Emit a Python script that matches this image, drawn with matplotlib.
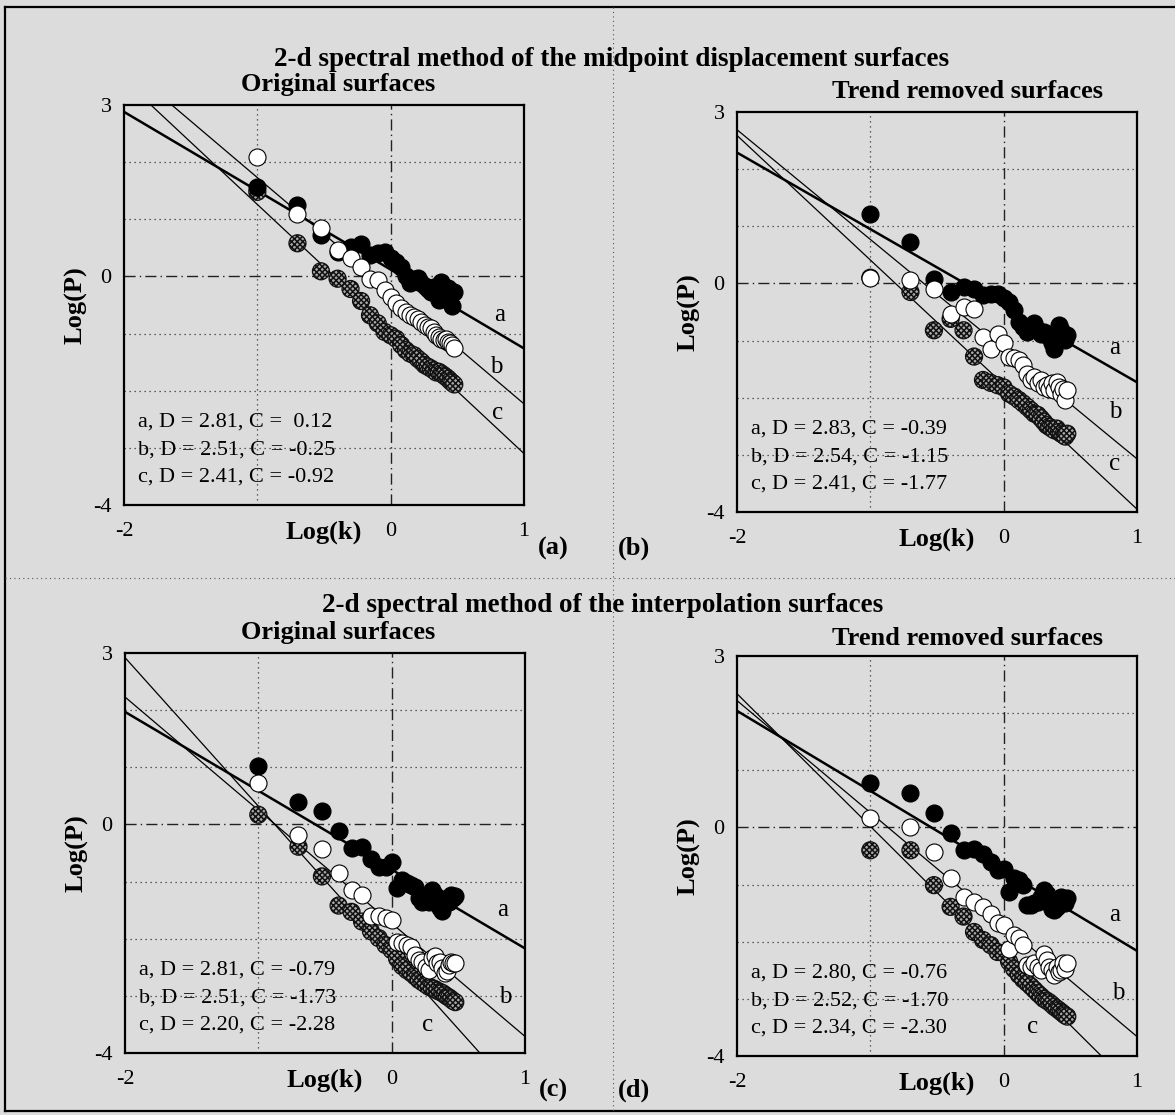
import numpy as np
import matplotlib
matplotlib.use('Agg')
import matplotlib.pyplot as plt
from matplotlib.lines import Line2D

# log10 of the wave number, shared by every series
log_k = [-1.0, -0.699, -0.523, -0.398, -0.301, -0.222, -0.155, -0.097, -0.046, 0.0,
         0.041, 0.079, 0.114, 0.146, 0.176, 0.204, 0.23, 0.255, 0.279, 0.301,
         0.322, 0.342, 0.362, 0.38, 0.398, 0.415, 0.431, 0.447, 0.462, 0.477]

# (a) midpoint displacement, original surfaces
a_orig_a = [1.57, 1.25, 0.72, 0.43, 0.52, 0.57, 0.37, 0.41, 0.42, 0.33,
            0.25, 0.16, 0.0, -0.12, -0.05, -0.02, -0.12, -0.16, -0.22, -0.28,
            -0.18, -0.30, -0.42, -0.10, -0.22, -0.30, -0.20, -0.32, -0.52, -0.28]
a_orig_b = [2.09, 1.09, 0.84, 0.46, 0.32, 0.17, -0.04, -0.06, -0.24, -0.36,
            -0.47, -0.56, -0.62, -0.68, -0.71, -0.74, -0.79, -0.85, -0.88, -0.91,
            -0.97, -1.03, -1.06, -1.09, -1.11, -1.09, -1.14, -1.17, -1.20, -1.26]
a_orig_c = [1.48, 0.58, 0.09, -0.04, -0.22, -0.43, -0.68, -0.82, -0.97, -1.03,
            -1.09, -1.20, -1.29, -1.35, -1.38, -1.44, -1.49, -1.55, -1.58, -1.61,
            -1.64, -1.68, -1.67, -1.70, -1.73, -1.76, -1.79, -1.83, -1.86, -1.89]

# (b) midpoint displacement, trend removed surfaces
b_trend_a = [1.21, 0.73, 0.08, -0.15, -0.06, -0.09, -0.20, -0.18, -0.18, -0.26,
             -0.32, -0.47, -0.67, -0.76, -0.85, -0.79, -0.70, -0.82, -0.88, -0.85,
             -0.90, -0.93, -1.05, -1.14, -0.90, -0.73, -0.82, -0.93, -0.99, -0.90]
b_trend_b = [0.10, 0.06, -0.09, -0.53, -0.41, -0.44, -0.93, -1.14, -0.88, -1.04,
             -1.28, -1.31, -1.34, -1.43, -1.58, -1.69, -1.63, -1.75, -1.69, -1.81,
             -1.78, -1.84, -1.75, -1.87, -1.72, -1.81, -1.93, -1.84, -2.04, -1.87]
b_trend_c = [0.10, -0.15, -0.82, -0.62, -0.82, -1.28, -1.69, -1.74, -1.78, -1.82,
             -1.93, -1.98, -2.04, -2.10, -2.16, -2.22, -2.28, -2.30, -2.36, -2.42,
             -2.48, -2.51, -2.54, -2.57, -2.54, -2.60, -2.63, -2.65, -2.68, -2.63]

# (c) interpolation, original surfaces
c_orig_a = [1.02, 0.39, 0.23, -0.11, -0.41, -0.39, -0.61, -0.74, -0.74, -0.65,
            -1.12, -0.97, -1.03, -1.06, -1.09, -1.29, -1.35, -1.26, -1.35, -1.14,
            -1.23, -1.35, -1.46, -1.52, -1.38, -1.29, -1.35, -1.23, -1.29, -1.26]
c_orig_b = [0.72, -0.19, -0.43, -0.85, -1.14, -1.23, -1.61, -1.61, -1.64, -1.67,
            -2.05, -2.08, -2.11, -2.14, -2.28, -2.37, -2.40, -2.49, -2.54, -2.34,
            -2.31, -2.43, -2.40, -2.51, -2.60, -2.57, -2.46, -2.40, -2.43, -2.43]
c_orig_c = [0.17, -0.39, -0.91, -1.42, -1.53, -1.70, -1.87, -1.99, -2.11, -2.20,
            -2.35, -2.48, -2.55, -2.60, -2.66, -2.72, -2.76, -2.80, -2.84, -2.86,
            -2.88, -2.91, -2.93, -2.95, -2.98, -3.01, -3.03, -3.06, -3.09, -3.11]

# (d) interpolation, trend removed surfaces
d_trend_a = [0.78, 0.61, 0.26, -0.09, -0.39, -0.37, -0.46, -0.60, -0.75, -0.72,
             -1.13, -0.89, -0.92, -1.01, -1.36, -1.36, -1.33, -1.30, -1.21, -1.10,
             -1.16, -1.33, -1.42, -1.45, -1.39, -1.30, -1.21, -1.27, -1.33, -1.24]
d_trend_b = [0.16, 0.01, -0.43, -0.89, -1.21, -1.30, -1.39, -1.51, -1.68, -1.71,
             -2.12, -1.88, -1.94, -2.06, -2.41, -2.44, -2.38, -2.44, -2.50, -2.21,
             -2.32, -2.44, -2.50, -2.58, -2.44, -2.53, -2.50, -2.38, -2.47, -2.38]
d_trend_c = [-0.40, -0.40, -1.01, -1.39, -1.56, -1.83, -1.97, -2.06, -2.18, -2.20,
             -2.35, -2.48, -2.58, -2.66, -2.72, -2.78, -2.84, -2.90, -2.95, -3.00,
             -3.03, -3.06, -3.10, -3.14, -3.17, -3.20, -3.23, -3.26, -3.29, -3.31]

# fitted dimension D and intercept C for series a, b, c of each panel
fit_D = {'a': [2.81, 2.51, 2.41], 'b': [2.83, 2.54, 2.41],
         'c': [2.81, 2.51, 2.20], 'd': [2.80, 2.52, 2.34]}
fit_C = {'a': [0.12, -0.25, -0.92], 'b': [-0.39, -1.15, -1.77],
         'c': [-0.79, -1.73, -2.28], 'd': [-0.76, -1.70, -2.30]}
fit_text = {'a': ['a, D = 2.81, C =  0.12', 'b, D = 2.51, C = -0.25', 'c, D = 2.41, C = -0.92'],
            'b': ['a, D = 2.83, C = -0.39', 'b, D = 2.54, C = -1.15', 'c, D = 2.41, C = -1.77'],
            'c': ['a, D = 2.81, C = -0.79', 'b, D = 2.51, C = -1.73', 'c, D = 2.20, C = -2.28'],
            'd': ['a, D = 2.80, C = -0.76', 'b, D = 2.52, C = -1.70', 'c, D = 2.34, C = -2.30']}

x_ticks = [-2, 0, 1]
y_ticks = [3, 0, -4]

BG = '#dcdcdc'
FONT = 'Liberation Serif'
plt.rcParams['hatch.linewidth'] = 1.1


def draw_panel(fig, rect, key, series, label_pos):
    ax = fig.add_axes(rect)
    ax.set_facecolor(BG)
    ax.set_xlim(-2, 1)
    ax.set_ylim(-4, 3)

    # reference grid
    for yy in [2, 1, -1, -2, -3]:
        ax.axhline(yy, color='#333333', lw=0.9, ls=(0, (1, 3)), zorder=1)
    ax.axvline(-1, color='#333333', lw=0.9, ls=(0, (1, 3)), zorder=1)
    ax.axhline(0, color='#222222', lw=1.0, ls=(0, (8, 3, 1, 3)), zorder=1)
    ax.axvline(0, color='#222222', lw=1.0, ls=(0, (8, 3, 1, 3)), zorder=1)

    # fitted lines  y = C + (2D - 7) x
    xx = np.array(ax.get_xlim())
    widths = [1.8, 0.9, 0.9]
    for D, C, lw in zip(fit_D[key], fit_C[key], widths):
        ax.plot(xx, C + (2 * D - 7) * xx, color='black', lw=lw, zorder=2)

    ya, yb, yc = series
    ms = 150
    ax.scatter(log_k, yc, s=ms, facecolor='#a8a8a8', edgecolor='#111111',
               hatch='xxxxxx', linewidths=0.9, zorder=3)
    ax.scatter(log_k, ya, s=ms, facecolor='black', edgecolor='black',
               linewidths=0.8, zorder=4)
    ax.scatter(log_k, yb, s=ms, facecolor='white', edgecolor='black',
               linewidths=0.8, zorder=5)

    for i, line in enumerate(fit_text[key]):
        ax.text(0.035, 0.207 - i * 0.069, line, transform=ax.transAxes,
                fontsize=16, family=FONT, va='center', ha='left', zorder=6)
    for name, (lx, ly) in zip(['a', 'b', 'c'], label_pos):
        ax.text(lx, ly, name, transform=ax.transAxes, fontsize=18,
                family=FONT, ha='center', va='center', zorder=6)

    ax.set_xticks(x_ticks)
    ax.set_yticks(y_ticks)
    ax.set_xticklabels([str(t) for t in x_ticks], family=FONT, fontsize=16)
    ax.set_yticklabels([str(t) for t in y_ticks], family=FONT, fontsize=16)
    ax.tick_params(axis='x', length=0, pad=12)
    ax.tick_params(axis='y', length=0, pad=9)
    for sp in ax.spines.values():
        sp.set_linewidth(1.6)

    ax.text(0.5, -0.068, 'Log(k)', transform=ax.transAxes, fontsize=19,
            fontweight='bold', family=FONT, ha='center', va='center')
    ax.text(-0.12, 0.5, 'Log(P)', transform=ax.transAxes, fontsize=19,
            fontweight='bold', family=FONT, ha='center', va='center', rotation=90)
    return ax


def main():
    fig = plt.figure(figsize=(11.75, 11.15), dpi=100)
    fig.patch.set_facecolor(BG)
    W, H = 1175.0, 1115.0

    def rect(left, top):
        return [left / W, (H - top - 400) / H, 400 / W, 400 / H]

    draw_panel(fig, rect(124, 105), 'a', (a_orig_a, a_orig_b, a_orig_c),
               [(0.94, 0.475), (0.93, 0.345), (0.935, 0.23)])
    draw_panel(fig, rect(737, 112), 'b', (b_trend_a, b_trend_b, b_trend_c),
               [(0.945, 0.41), (0.945, 0.25), (0.945, 0.12)])
    draw_panel(fig, rect(125, 653), 'c', (c_orig_a, c_orig_b, c_orig_c),
               [(0.945, 0.357), (0.95, 0.14), (0.757, 0.07)])
    draw_panel(fig, rect(737, 656), 'd', (d_trend_a, d_trend_b, d_trend_c),
               [(0.945, 0.352), (0.952, 0.157), (0.74, 0.072)])

    def ftext(x, y, s, size=19, va='center'):
        fig.text(x / W, 1 - y / H, s, fontsize=size, fontweight='bold',
                 family=FONT, ha='center', va=va)

    ftext(612, 66, '2-d spectral method of the midpoint displacement surfaces',
          size=19.5, va='baseline')
    ftext(338, 91, 'Original surfaces', va='baseline')
    ftext(968, 98, 'Trend removed surfaces', va='baseline')
    ftext(603, 612, '2-d spectral method of the interpolation surfaces',
          size=19.5, va='baseline')
    ftext(338, 639, 'Original surfaces', va='baseline')
    ftext(968, 645, 'Trend removed surfaces', va='baseline')
    ftext(553, 548, '(a)')
    ftext(634, 548, '(b)')
    ftext(553, 1090, '(c)')
    ftext(634, 1090, '(d)')

    # page frame and dividers
    def fline(x0, y0, x1, y1, **kw):
        fig.add_artist(Line2D([x0 / W, x1 / W], [1 - y0 / H, 1 - y1 / H], **kw))

    fline(5, 7, 1175, 7, color='black', lw=1.6)
    fline(5, 7, 5, 1111, color='black', lw=1.6)
    fline(5, 1111, 1175, 1111, color='black', lw=1.6)
    fline(613, 7, 613, 1111, color='#555555', lw=0.8, ls=(0, (1, 3)))
    fline(5, 578, 1175, 578, color='#555555', lw=0.8, ls=(0, (1, 3)))

    fig.savefig('out.png', dpi=100, facecolor=BG)


if __name__ == "__main__":
    main()
